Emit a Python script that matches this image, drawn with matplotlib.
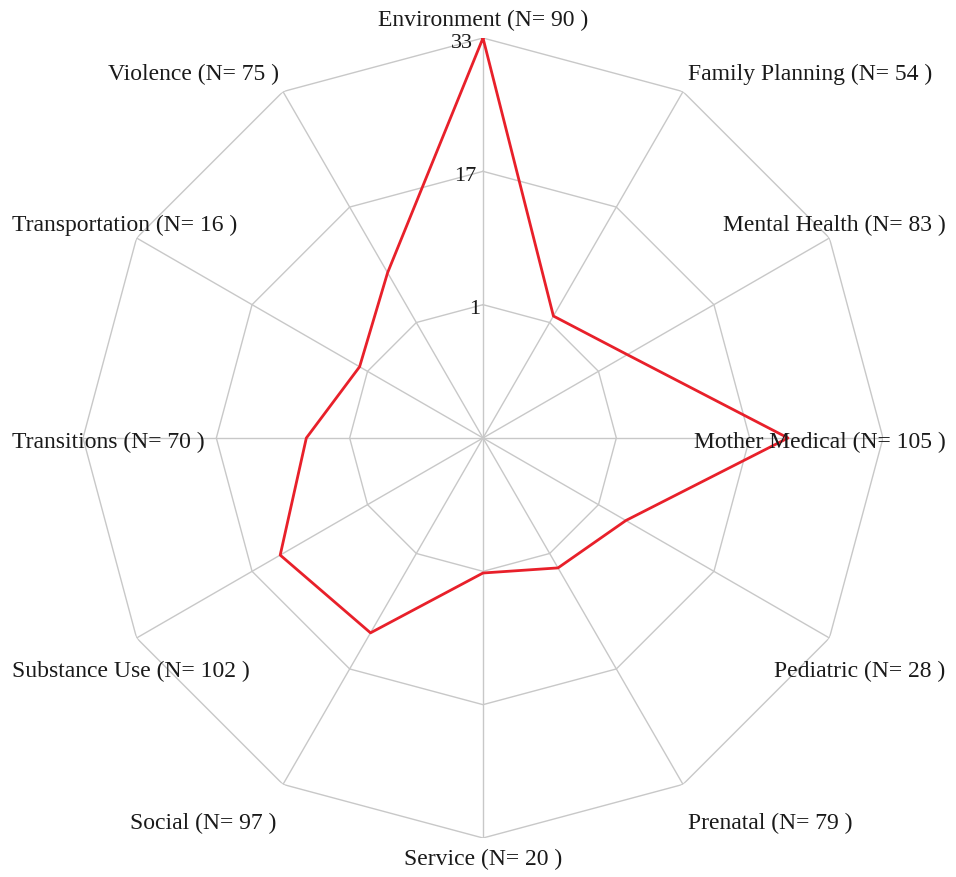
import numpy as np
import matplotlib
matplotlib.use("Agg")
import matplotlib.pyplot as plt

# categories and values
categories = ["Environment", "Family Planning", "Mental Health", "Mother Medical",
              "Pediatric", "Prenatal", "Service", "Social", "Substance Use",
              "Transitions", "Transportation", "Violence"]
counts = [90, 54, 83, 105, 28, 79, 20, 97, 102, 70, 16, 75]
values = [33, 1.9, 5.0, 21.6, 4.8, 3.0, 1.2, 12.0, 13.1, 6.2, 2.1, 7.9]
ring_levels = [1, 17, 33]
r_min, r_max = -15, 33

plt.rcParams['font.family'] = ['Liberation Serif', 'DejaVu Serif']

fig = plt.figure(figsize=(9.56, 8.77), dpi=100)
# axes box in pixels: centre (483, 438), radius 400
ax = fig.add_axes([83 / 956, 39 / 877, 800 / 956, 800 / 877], projection='polar')
ax.set_theta_offset(np.pi / 2)
ax.set_theta_direction(-1)
ax.set_ylim(r_min, r_max)
ax.set_axis_off()

n = len(categories)
angles = np.linspace(0, 2 * np.pi, n, endpoint=False)
closed = np.append(angles, angles[0])

grid_col = "#c8c8c8"
for lev in ring_levels:
    ax.plot(closed, [lev] * (n + 1), color=grid_col, lw=1.0, zorder=1)
for a in angles:
    ax.plot([a, a], [r_min, r_max], color=grid_col, lw=1.0, zorder=1)

ax.plot(closed, values + values[:1], color="#e8202a", lw=2.0, zorder=3)

for lev in ring_levels:
    ax.text(-0.025, lev - 0.6, str(lev), ha='right', va='center', fontsize=16,
            color="#1a1a1a", zorder=4)

# label anchors in axes fraction (x, y, ha)
label_pos = [
    (0.5, 1.0225, 'center'),
    (0.756, 0.954, 'left'),
    (1.078, 0.766, 'right'),
    (1.078, 0.494, 'right'),
    (1.078, 0.208, 'right'),
    (0.756, 0.018, 'left'),
    (0.5, -0.027, 'center'),
    (0.242, 0.018, 'right'),
    (-0.089, 0.208, 'left'),
    (-0.089, 0.494, 'left'),
    (-0.089, 0.766, 'left'),
    (0.245, 0.954, 'right'),
]
for cat, c, (x, y, ha) in zip(categories, counts, label_pos):
    ax.text(x, y, f"{cat} (N= {c} )", transform=ax.transAxes, ha=ha, va='center',
            fontsize=17, color="#1a1a1a", clip_on=False)

fig.savefig("out.png", dpi=100, facecolor="white")
